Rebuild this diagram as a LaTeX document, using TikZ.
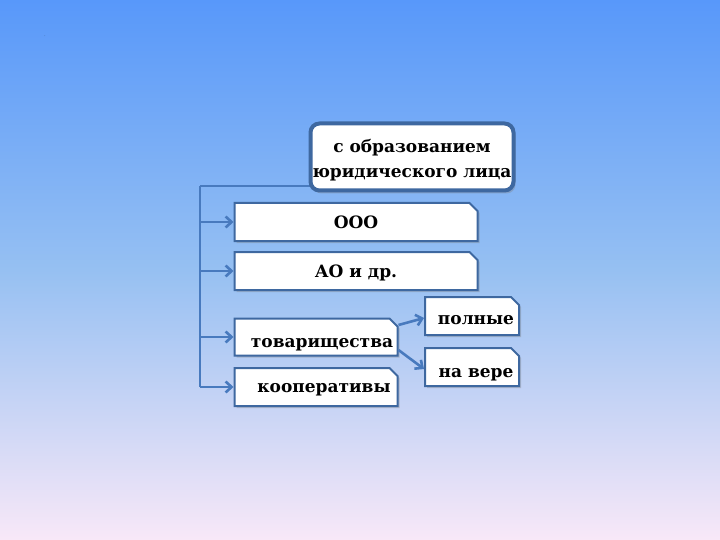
\documentclass[tikz,border=0pt]{standalone}
\usepackage{fontspec}
\setmainfont{DejaVu Serif}
\usetikzlibrary{shapes.misc,arrows.meta,shadows}
\definecolor{bgtop}{RGB}{88,152,250}
\definecolor{bgmid}{RGB}{150,192,242}
\definecolor{bgbot}{RGB}{248,232,248}
\definecolor{frame}{RGB}{62,104,160}
\definecolor{link}{RGB}{72,122,190}
\newcommand{\down}[2]{\raisebox{-#1}[\height][\depth]{#2}}
\tikzset{
  kind/.style={draw=frame,line width=2pt,fill=white,chamfered rectangle,
    chamfered rectangle corners=north east,chamfered rectangle xsep=4pt,
    chamfered rectangle ysep=4pt,inner sep=0pt,font=\bfseries\fontsize{17}{19}\selectfont,
    drop shadow={shadow xshift=2pt,shadow yshift=-2pt,opacity=0.35}},
  link/.style={draw=link,line width=2.6pt},
  arrow/.style={link,-{Straight Barb[length=6pt,width=11pt]}}
}
\begin{document}
\begin{tikzpicture}[x=1pt,y=-1pt]
	% background
	\shade[top color=bgtop,bottom color=bgbot,middle color=bgmid] (0,0) rectangle (720,540);
	\useasboundingbox (0,0) rectangle (720,540);
	\node[text=frame,font=\tiny] (dot) at (45,36) {.};
	% connector from main box, behind it
	\coordinate (trunk) at (200,186);
	\draw[link] (312,186) -- (trunk);
	% main box
	\node[draw=frame,line width=4pt,rounded corners=9pt,fill=white,
		minimum width=203pt,minimum height=67pt,inner sep=0pt,
		font=\bfseries\fontsize{17}{25}\selectfont,
		drop shadow={shadow xshift=2pt,shadow yshift=-3pt,opacity=0.35}]
		(org) at (412,157) {\down{3pt}{\begin{tabular}{@{}c@{}}с образованием\\юридического лица\end{tabular}}};
	% kinds
	\node[kind,minimum width=243pt,minimum height=38pt] (ooo) at (356,222) {ООО};
	\node[kind,minimum width=243pt,minimum height=38pt] (ao) at (356,271) {\down{1.5pt}{АО и др.}};
	\node[kind,minimum width=163pt,minimum height=37pt] (tov) at (316,337) {\hspace{12pt}\down{8pt}{товарищества}};
	\node[kind,minimum width=163pt,minimum height=38pt] (koop) at (316,387) {\hspace{16pt}\down{3pt}{кооперативы}};
	\node[kind,minimum width=94pt,minimum height=38pt] (poln) at (472,316) {\hspace{8pt}\down{4pt}{полные}};
	\node[kind,minimum width=94pt,minimum height=38pt] (vera) at (472,367) {\hspace{8pt}\down{8pt}{на вере}};
	% connectors
	\draw[link] (trunk) -- (trunk |- koop.west);
	\draw[arrow] (trunk |- ooo.west) -- (ooo.west);
	\draw[arrow] (trunk |- ao.west) -- (ao.west);
	\draw[arrow] (trunk |- tov.west) -- (tov.west);
	\draw[arrow] (trunk |- koop.west) -- (koop.west);
	\draw[arrow] ([yshift=12pt]tov.east) -- ([yshift=-2pt]poln.west);
	\draw[arrow] ([yshift=-13pt]tov.east) -- ([yshift=-2pt]vera.west);
\end{tikzpicture}
\end{document}
